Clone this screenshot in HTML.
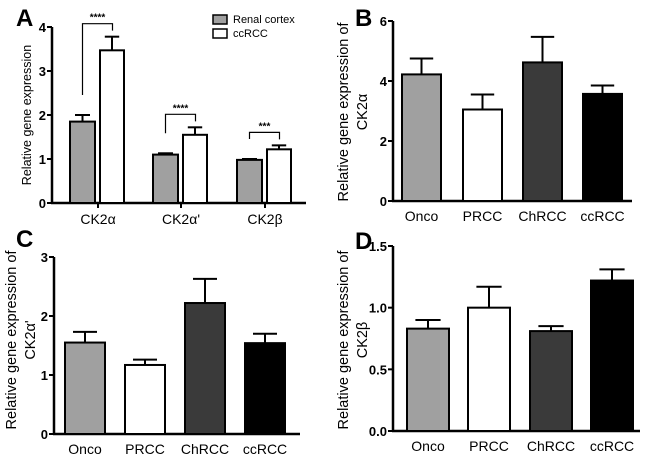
<!DOCTYPE html>
<html><head><meta charset="utf-8"><style>
body{margin:0;background:#fff}
svg{display:block;font-family:"Liberation Sans",Arial,sans-serif}
</style></head><body>
<svg id="c" width="650" height="457" viewBox="0 0 650 457" xmlns="http://www.w3.org/2000/svg"></svg>
<script>
const NS="http://www.w3.org/2000/svg";
const svg=document.getElementById('c');
// Panel A data
const aCats=["CK2α","CK2α'","CK2β"];
const aCortex=[1.85,1.1,0.98];
const aCortexErr=[0.15,0.03,0.02];
const aCc=[3.47,1.55,1.22];
const aCcErr=[0.31,0.17,0.09];
const aStars=["****","****","***"];
const aTicks=[0,1,2,3,4];
// Panels B-D data
const grpCats=["Onco","PRCC","ChRCC","ccRCC"];
const bVals=[4.22,3.05,4.62,3.57];
const bErr=[0.53,0.5,0.85,0.28];
const bTicks=[0,2,4,6];
const cVals=[1.55,1.17,2.22,1.54];
const cErr=[0.18,0.09,0.41,0.16];
const cTicks=[0,1,2,3];
const dVals=[0.83,1.0,0.81,1.22];
const dErr=[0.07,0.17,0.04,0.09];
const dTicks=["0.0","0.5","1.0","1.5"];
const grpFill=["#a0a0a0","#ffffff","#3a3a3a","#000000"];

function el(tag,attrs,parent,text){
  const e=document.createElementNS(NS,tag);
  for(const k in attrs)e.setAttribute(k,attrs[k]);
  if(text!==undefined)e.textContent=text;
  (parent||svg).appendChild(e);return e;
}
function axes(g,x0,y0,yTop,xEnd,ticks,max){
  const y=v=>y0-(v/max)*(y0-yTop);
  const ax=el('line',{x1:x0,y1:y0+1,x2:x0,y2:yTop,stroke:'#000','stroke-width':2.5},g);
  
  const xa=el('line',{x1:x0-1,y1:y0,x2:xEnd,y2:y0,stroke:'#000','stroke-width':2.5},g);
  
  ticks.forEach(t=>{
    const v=parseFloat(t);
    el('line',{x1:x0-5,y1:y(v),x2:x0,y2:y(v),stroke:'#000','stroke-width':2},g);
    const tl=el('text',{x:x0-6,y:y(v)+5,'text-anchor':'end','font-size':13,'font-weight':'bold'},g,t);
    
  });
  return y;
}
function bar(g,x,w,v,e,y,fill,name){
  const r=el('rect',{x:x,y:y(v),width:w,height:y(0)-y(v),fill:fill,stroke:'#000','stroke-width':2},g);
  
  const cx=x+w/2;
  el('line',{x1:cx,y1:y(v),x2:cx,y2:y(v+e),stroke:'#000','stroke-width':2},g);
  el('line',{x1:cx-w*0.3,y1:y(v+e),x2:cx+w*0.3,y2:y(v+e),stroke:'#000','stroke-width':2},g);
}
function panelLetter(x,y,t){
  const l=el('text',{x:x,y:y,'font-size':24,'font-weight':'bold'},svg,t);
  
}
function yTitle(cx,cy,lines){
  const t=el('text',{transform:`translate(${cx},${cy}) rotate(-90)`,'text-anchor':'middle','font-size':14.5},svg);
  
  lines.forEach((s,i)=>el('tspan',{x:0,dy:i?19:0},t,s));
}

// ---- Panel A ----
(function(){
  const g=el('g',{});
  const y=axes(g,52,203,27,306,aTicks.map(String),4);
  panelLetter(16,26,"A");
  const t=el('text',{transform:'translate(31,115) rotate(-90)','text-anchor':'middle','font-size':12.5},svg,"Relative gene expression");
  
  const starts=[70,153,237],bw=25;
  aCats.forEach((c,i)=>{
    const x1=starts[i],x2=starts[i]+30;
    bar(g,x1,bw,aCortex[i],aCortexErr[i],y,'#a0a0a0','bar-renal-cortex');
    bar(g,x2,bw-1,aCc[i],aCcErr[i],y,'#ffffff','bar-ccrcc');
    el('line',{x1:x2-2,y1:203,x2:x2-2,y2:208,stroke:'#000','stroke-width':2},g);
    const lb=el('text',{x:x2-2,y:224,'text-anchor':'middle','font-size':14},g,c);
    
    const l=x1+bw/2,r=x2+bw/2;
    const bt=y(aCc[i]+aCcErr[i])-13;
    const br=el('path',{d:`M${l},${y(aCortex[i]+aCortexErr[i])-20} V${bt} H${r} V${y(aCc[i]+aCcErr[i])-6}`,fill:'none',stroke:'#000','stroke-width':1.2},g);
    
    const s=el('text',{x:(l+r)/2,y:bt-3,'text-anchor':'middle','font-size':10,'font-weight':'bold'},g,aStars[i]);
    
  });
  const lg=el('g',{},g);
  el('rect',{x:213,y:15,width:14,height:9,fill:'#a0a0a0',stroke:'#000','stroke-width':1.5},lg);
  el('text',{x:233,y:23,'font-size':11},lg,"Renal cortex");
  el('rect',{x:213,y:29,width:14,height:9,fill:'#fff',stroke:'#000','stroke-width':1.5},lg);
  el('text',{x:233,y:37,'font-size':11},lg,"ccRCC");
})();

function groupPanel(name,letter,lx,ly,x0,y0,yTop,xEnd,ticks,max,vals,errs,starts,bw,titleX,titleY,titleLines){
  const g=el('g',{});
  const y=axes(g,x0,y0,yTop,xEnd,ticks,max);
  panelLetter(lx,ly,letter);
  yTitle(titleX,titleY,titleLines);
  grpCats.forEach((c,i)=>{
    bar(g,starts[i],bw,vals[i],errs[i],y,grpFill[i],'bar-'+c.toLowerCase());
    const lb=el('text',{x:starts[i]+bw/2,y:y0+20,'text-anchor':'middle','font-size':14},g,c);
    
  });
}
groupPanel('panel-b','B',355,26,393,201,21,632,bTicks.map(String),6,bVals,bErr,[402,463,523,583],39,348,112,["Relative gene expression of","CK2α"]);
groupPanel('panel-c','C',16,247,54,434,257,300,cTicks.map(String),3,cVals,cErr,[65,125,185,245],40,16,340,["Relative gene expression of","CK2α'"]);
groupPanel('panel-d','D',355,249,393,431,246,640,dTicks,1.5,dVals,dErr,[407,468,530,591],42,348,340,["Relative gene expression of","CK2β"]);
</script>
</body></html>
